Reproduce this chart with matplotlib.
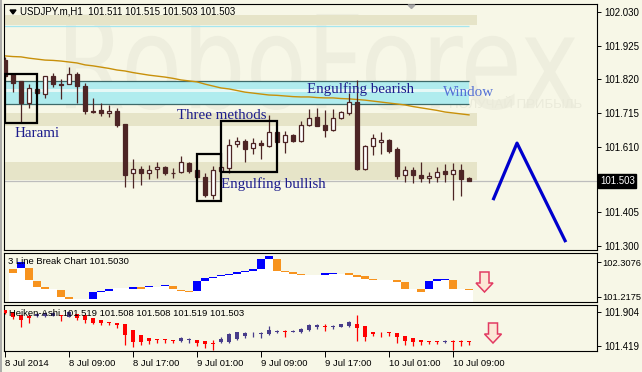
import matplotlib
matplotlib.use("Agg")
import matplotlib.pyplot as plt
import matplotlib.transforms as mtransforms
from matplotlib.patches import Rectangle, Polygon, PathPatch
from matplotlib.textpath import TextPath
from matplotlib.font_manager import FontProperties
from matplotlib.lines import Line2D
import numpy as np

# ---------------- data ----------------
# USDJPY H1 candles, 8 Jul 01:00 .. 10 Jul 11:00
opens = [101.880, 101.837, 101.815, 101.746, 101.790, 101.774, 101.830, 101.805, 101.805, 101.837,
         101.799, 101.721, 101.724, 101.715, 101.721, 101.681, 101.528, 101.540, 101.528, 101.540,
         101.546, 101.528, 101.531, 101.559, 101.537, 101.515, 101.459, 101.534, 101.543, 101.618,
         101.628, 101.606, 101.621, 101.612, 101.656, 101.624, 101.646, 101.628, 101.677, 101.702,
         101.677, 101.662, 101.699, 101.715, 101.749, 101.540, 101.612, 101.624, 101.631, 101.603,
         101.521, 101.537, 101.521, 101.512, 101.515, 101.534, 101.525, 101.537, 101.511]
highs = [101.890, 101.840, 101.815, 101.805, 101.793, 101.830, 101.840, 101.821, 101.858, 101.843,
         101.808, 101.762, 101.746, 101.740, 101.730, 101.681, 101.571, 101.550, 101.553, 101.562,
         101.550, 101.543, 101.581, 101.562, 101.537, 101.528, 101.550, 101.550, 101.634, 101.640,
         101.634, 101.637, 101.631, 101.709, 101.659, 101.659, 101.649, 101.690, 101.727, 101.730,
         101.724, 101.727, 101.721, 101.777, 101.818, 101.615, 101.649, 101.656, 101.634, 101.609,
         101.550, 101.546, 101.562, 101.531, 101.546, 101.556, 101.559, 101.556, 101.515]
lows = [101.824, 101.780, 101.684, 101.730, 101.774, 101.762, 101.796, 101.759, 101.805, 101.746,
        101.712, 101.715, 101.706, 101.702, 101.671, 101.484, 101.481, 101.490, 101.509, 101.512,
        101.521, 101.512, 101.528, 101.528, 101.512, 101.453, 101.447, 101.531, 101.528, 101.609,
        101.562, 101.587, 101.571, 101.609, 101.624, 101.590, 101.624, 101.624, 101.674, 101.674,
        101.640, 101.659, 101.696, 101.709, 101.537, 101.537, 101.584, 101.587, 101.590, 101.509,
        101.500, 101.497, 101.500, 101.497, 101.500, 101.500, 101.443, 101.456, 101.503]
closes = [101.830, 101.808, 101.746, 101.793, 101.777, 101.830, 101.805, 101.803, 101.837, 101.799,
          101.721, 101.718, 101.715, 101.721, 101.677, 101.521, 101.540, 101.528, 101.537, 101.546,
          101.528, 101.528, 101.562, 101.534, 101.515, 101.459, 101.537, 101.546, 101.615, 101.628,
          101.603, 101.621, 101.615, 101.656, 101.624, 101.646, 101.628, 101.677, 101.699, 101.674,
          101.662, 101.699, 101.718, 101.749, 101.540, 101.612, 101.637, 101.631, 101.596, 101.518,
          101.537, 101.521, 101.512, 101.518, 101.531, 101.525, 101.537, 101.509, 101.503]

# moving average (gold line)
ma = [101.893, 101.891, 101.890, 101.886, 101.883, 101.880, 101.879, 101.877, 101.874, 101.871,
      101.865, 101.862, 101.858, 101.854, 101.849, 101.846, 101.841, 101.837, 101.833, 101.830,
      101.827, 101.823, 101.818, 101.815, 101.812, 101.805, 101.799, 101.793, 101.790, 101.785,
      101.780, 101.777, 101.774, 101.771, 101.770, 101.768, 101.766, 101.765, 101.765, 101.763,
      101.762, 101.762, 101.760, 101.759, 101.757, 101.755, 101.752, 101.749, 101.746, 101.743,
      101.740, 101.735, 101.731, 101.727, 101.723, 101.718, 101.715, 101.712, 101.709]

# support / resistance zones
beige_lo = [101.989, 101.674, 101.506]
beige_hi = [102.021, 101.715, 101.562]
beige_end = 59.0
cyan_lo, cyan_hi = 101.743, 101.815
cyan_gap = (101.780, 101.790)
cyan_line = 101.986
cyan_end = 58.0
last_price = 101.503

# pattern boxes: (x0, x1, price_lo, price_hi)
boxes = [(0, 4, 101.684, 101.837), (24, 27, 101.440, 101.587), (27, 34, 101.531, 101.690)]
labels = [("Harami", 1.25, 101.652), ("Three methods", 21.5, 101.706),
          ("Engulfing bullish", 27.0, 101.494), ("Engulfing bearish", 37.75, 101.790)]

# forecast zig-zag
zig_x = [61, 64, 70.1]
zig_y = [101.443, 101.621, 101.312]

# 3 line break columns
lb_lo = [101.965, 102.121, 101.747, 101.529, 101.467, 101.467, 101.218, 101.155, 101.155, 101.155,
         101.155, 101.373, 101.404, 101.498, 101.498, 101.467, 101.467, 101.529, 101.529, 101.560,
         101.467, 101.404, 101.373, 101.404, 101.716, 101.809, 101.871, 101.903, 101.934, 101.996,
         102.027, 102.090, 102.401, 102.027, 101.996, 101.934, 101.903, 101.903, 101.903, 101.903,
         101.934, 101.934, 101.903, 101.840, 101.778, 101.747, 101.747, 101.747, 101.685, 101.467,
         101.467, 101.373, 101.467, 101.716, 101.747, 101.467, 101.467, 101.436]
lb_hi = [102.090, 102.308, 102.121, 101.716, 101.529, 101.467, 101.436, 101.218, 101.155, 101.155,
         101.373, 101.404, 101.467, 101.498, 101.498, 101.529, 101.529, 101.560, 101.529, 101.591,
         101.560, 101.436, 101.404, 101.716, 101.809, 101.840, 101.903, 101.934, 101.996, 102.027,
         102.090, 102.401, 102.495, 102.401, 102.027, 101.996, 101.934, 101.903, 101.903, 101.965,
         101.965, 101.934, 101.965, 101.903, 101.871, 101.778, 101.747, 101.747, 101.747, 101.685,
         101.467, 101.467, 101.716, 101.778, 101.778, 101.747, 101.467, 101.467]
lb_col = ['O', 'B', 'O', 'O', 'O', '', 'O', 'O', '', '', 'B', 'B', 'B', '', '', 'B', 'O', 'B', '', 'B',
          'O', 'O', 'O', 'B', 'B', 'B', 'B', 'B', 'B', 'B', 'B', 'B', 'B', 'O', 'O', 'O', 'O', '', '', 'B',
          'B', '', 'O', 'O', 'O', 'O', '', '', 'O', 'O', '', 'O', 'B', 'B', 'B', 'O', '', 'O']

# heiken ashi
ha_open = [101.933, 101.904, 101.861, 101.847, 101.847, 101.847, 101.847, 101.861, 101.833, 101.875,
           101.861, 101.818, 101.790, 101.761, 101.747, 101.733, 101.647, 101.576, 101.533, 101.519,
           101.515, 101.505, 101.490, 101.505, 101.505, 101.490, 101.462, 101.476, 101.476, 101.519,
           101.562, 101.585, 101.590, 101.590, 101.619, 101.633, 101.625, 101.619, 101.647, 101.690,
           101.704, 101.690, 101.690, 101.704, 101.733, 101.704, 101.619, 101.610, 101.619, 101.604,
           101.562, 101.533, 101.505, 101.490, 101.485, 101.476, 101.490, 101.490, 101.490]
ha_close = [101.890, 101.833, 101.790, 101.818, 101.875, 101.890, 101.890, 101.847, 101.904, 101.818,
            101.790, 101.747, 101.747, 101.747, 101.719, 101.576, 101.476, 101.476, 101.490, 101.510,
            101.505, 101.490, 101.533, 101.519, 101.462, 101.448, 101.448, 101.519, 101.590, 101.619,
            101.604, 101.595, 101.604, 101.647, 101.633, 101.625, 101.633, 101.661, 101.719, 101.719,
            101.695, 101.700, 101.733, 101.761, 101.676, 101.547, 101.590, 101.600, 101.604, 101.547,
            101.490, 101.476, 101.476, 101.476, 101.476, 101.490, 101.480, 101.476, 101.476]
ha_high = [101.933, 101.904, 101.861, 101.875, 101.890, 101.904, 101.904, 101.861, 101.918, 101.875,
           101.861, 101.818, 101.790, 101.761, 101.747, 101.733, 101.647, 101.576, 101.533, 101.519,
           101.519, 101.505, 101.547, 101.533, 101.505, 101.490, 101.505, 101.547, 101.604, 101.619,
           101.619, 101.619, 101.619, 101.704, 101.647, 101.647, 101.647, 101.676, 101.733, 101.733,
           101.733, 101.719, 101.733, 101.776, 101.861, 101.704, 101.619, 101.619, 101.619, 101.604,
           101.562, 101.533, 101.505, 101.490, 101.490, 101.505, 101.505, 101.505, 101.490]
ha_low = [101.875, 101.804, 101.690, 101.747, 101.833, 101.833, 101.847, 101.776, 101.833, 101.790,
          101.747, 101.733, 101.719, 101.719, 101.676, 101.433, 101.405, 101.433, 101.448, 101.462,
          101.462, 101.462, 101.476, 101.462, 101.419, 101.390, 101.362, 101.462, 101.462, 101.505,
          101.533, 101.547, 101.533, 101.576, 101.604, 101.547, 101.619, 101.604, 101.633, 101.661,
          101.633, 101.661, 101.690, 101.690, 101.490, 101.490, 101.562, 101.547, 101.562, 101.462,
          101.433, 101.419, 101.433, 101.448, 101.448, 101.462, 101.362, 101.419, 101.433]

main_ticks = [102.030, 101.925, 101.820, 101.715, 101.610, 101.405, 101.300]
lb_ticks = [102.3076, 101.2175]
ha_ticks = [101.904, 101.419]
time_ticks = [0, 8, 16, 24, 32, 40, 48, 56]
time_labels = ["8 Jul 2014", "8 Jul 09:00", "8 Jul 17:00", "9 Jul 01:00",
               "9 Jul 09:00", "9 Jul 17:00", "10 Jul 01:00", "10 Jul 09:00"]

# ---------------- figure ----------------
W, H = 642, 372
BG = "#F7F7E7"
CANDLE = "#4D2525"
BEIGE = "#E6E4C8"
CYAN = "#B0ECEE"
NAVY = "#1C1C8C"
SANS = "Liberation Sans"

plt.rcParams["font.family"] = SANS


def rect(x0, y0, x1, y1):
    return [x0 / W, 1 - y1 / H, (x1 - x0) / W, (y1 - y0) / H]


def ptext(x, y, s, **kw):
    fig.text(x / W, 1 - y / H, s, **kw)


def ppoly(pts, **kw):
    fig.add_artist(Polygon([(x / W, 1 - y / H) for x, y in pts], closed=True,
                           transform=fig.transFigure, **kw))


def down_arrow(cx, top, bottom):
    hy = bottom - 9
    ppoly([(cx - 4.5, top), (cx + 4.5, top), (cx + 4.5, hy), (cx + 8.5, hy), (cx, bottom),
           (cx - 8.5, hy), (cx - 4.5, hy)], facecolor="#FCE6D6", edgecolor="#E23A62", lw=1.1)


fig = plt.figure(figsize=(W / 100, H / 100), dpi=100, facecolor=BG)
ax = fig.add_axes(rect(4, 4, 597, 250))
ax2 = fig.add_axes(rect(4, 253, 597, 302), sharex=ax)
ax3 = fig.add_axes(rect(4, 305, 597, 351), sharex=ax)

for a in (ax, ax2, ax3):
    a.set_facecolor(BG)
    for s in a.spines.values():
        s.set_color("black")
        s.set_linewidth(0.8)
    a.yaxis.tick_right()
    a.tick_params(axis="y", labelsize=7, length=3, width=0.7, pad=2)
    a.tick_params(axis="x", bottom=False, labelbottom=False)
ax2.tick_params(axis="y", labelsize=6.7, pad=1)

ax.set_xlim(-0.125, 74)
ax.set_ylim(101.2874, 102.055)
ax2.set_ylim(101.0616, 102.588)
ax3.set_ylim(101.3477, 102.004)

# watermark
tp = TextPath((0, 0), "RoboForex", size=1, prop=FontProperties(family="DejaVu Sans"))
bb = tp.get_extents()
tr = mtransforms.Affine2D().translate(-bb.x0, -bb.y0).scale(510 / bb.width, 100 / bb.height) \
    .translate(66, H - 110)
ax.add_patch(PathPatch(tp, transform=tr, facecolor="#EEEEDE", edgecolor="none", zorder=0.2,
                       clip_on=False))
ax.text(578 / 593, (250 - 105) / 246, "ПОЛУЧАЙ ПРИБЫЛЬ", transform=ax.transAxes,
        ha="right", va="center", fontsize=9.5, color="#EAEADA", zorder=0.3)

# zones
for lo, hi in zip(beige_lo, beige_hi):
    ax.add_patch(Rectangle((-0.125, lo), beige_end + 0.125, hi - lo, color=BEIGE, lw=0, zorder=1))
ax.add_patch(Rectangle((-0.125, cyan_lo), cyan_end + 0.125, cyan_hi - cyan_lo, color=CYAN, lw=0,
                       zorder=1))
ax.add_patch(Rectangle((-0.125, cyan_gap[0]), cyan_end + 0.125, cyan_gap[1] - cyan_gap[0],
                       color="#E6F8F6", lw=0, zorder=1.1))
ax.hlines([cyan_lo, cyan_hi], -0.125, cyan_end, color="#3E6A6A", lw=0.9, zorder=1.2)
ax.hlines(cyan_line, -0.125, cyan_end, color="#A6E6EE", lw=0.9, zorder=1.2)
ax.axhline(last_price, color="#BDBDBD", lw=0.9, zorder=1.3)

# moving average
idx = np.arange(len(opens))
ax.plot(idx, ma, color="#C8900A", lw=1.0, zorder=2)

# candles
o = np.array(opens)
c = np.array(closes)
up = c > o
ax.vlines(idx, lows, highs, color=CANDLE, lw=0.9, zorder=3)
body_lo = np.minimum(o, c)
body_h = np.maximum(np.abs(c - o), 0.0012)
ax.bar(idx[up], body_h[up], bottom=body_lo[up], width=0.62, color="white", edgecolor=CANDLE,
       linewidth=0.9, zorder=4)
ax.bar(idx[~up], body_h[~up], bottom=body_lo[~up], width=0.62, color=CANDLE, edgecolor=CANDLE,
       linewidth=0.9, zorder=4)

# pattern boxes and names
for x0, x1, lo, hi in boxes:
    ax.add_patch(Rectangle((x0, lo), x1 - x0, hi - lo, fill=False, edgecolor="black", lw=1.6,
                           zorder=5))
for name, x, y in labels:
    ax.text(x, y, name, fontsize=10.8, color=NAVY, family="Liberation Serif", va="center",
            zorder=6)
ax.text(54.75, 101.780, "Window", fontsize=10.8, color="#5470D6", family="Liberation Serif",
        va="center", zorder=6)

# forecast
ax.plot(zig_x, zig_y, color="#0000CD", lw=2.3, zorder=6, solid_capstyle="butt")

ax.set_yticks(main_ticks)
ax.set_yticklabels(["%.3f" % t for t in main_ticks])
ax.text(1.005, last_price, "101.503", transform=ax.get_yaxis_transform(), fontsize=7,
        color="white", va="center", ha="left",
        bbox=dict(facecolor="black", edgecolor="black", pad=1.2))

# 3 line break panel
edges = np.arange(len(lb_lo) + 1) + 0.5
ax2.fill_between(edges, np.append(lb_lo, lb_lo[-1]), ax2.get_ylim()[0], step="post",
                 color="white", lw=0, zorder=1)
colors = {"O": "#F7931E", "B": "#0000FF"}
for k, (lo, hi, cl) in enumerate(zip(lb_lo, lb_hi, lb_col)):
    if cl:
        ax2.bar(k + 1, max(hi - lo, 0.02), bottom=lo, width=1.0, color=colors[cl], lw=0, zorder=2)
ax2.set_yticks(lb_ticks)
ax2.set_yticklabels(["%.4f" % t for t in lb_ticks])

# heiken ashi panel
hao = np.array(ha_open)
hac = np.array(ha_close)
hcol = np.where(hac >= hao, "#483D8B", "#FF0000")
ax3.vlines(idx, ha_low, ha_high, colors=hcol, lw=0.9, zorder=2)
ax3.bar(idx, np.maximum(np.abs(hac - hao), 0.004), bottom=np.minimum(hao, hac), width=0.55,
        color=hcol, lw=0, zorder=3)
ax3.set_yticks(ha_ticks)
ax3.set_yticklabels(["%.3f" % t for t in ha_ticks])
ax3.set_xticks(time_ticks)
ax3.set_xticklabels(time_labels)
ax3.tick_params(axis="x", bottom=True, labelbottom=True, length=4, width=0.7, labelsize=6.8,
                pad=1.5, direction="out")
for lab in ax3.get_xticklabels():
    lab.set_ha("left")

# captions
ppoly([(10, 10), (16, 10), (13, 14)], color="black")
ptext(20, 12, "USDJPY.m,H1  101.511 101.515 101.503 101.503", fontsize=7, va="center")
ppoly([(408, 5), (415, 5), (411.5, 8.5)], color="#A8A8A8")
ptext(8, 262, "3 Line Break Chart 101.5030", fontsize=6.8, va="center")
ptext(9, 314, "Heiken-Ashi 101.519 101.508 101.508 101.519 101.503", fontsize=6.8, va="center")
down_arrow(484.5, 272, 292)
down_arrow(493, 323, 343)
fig.add_artist(Line2D([1 / W, 1 / W], [0, 1], color="#A0A0A0", lw=1.2, transform=fig.transFigure))

fig.savefig("out.png", dpi=100, facecolor=BG)
